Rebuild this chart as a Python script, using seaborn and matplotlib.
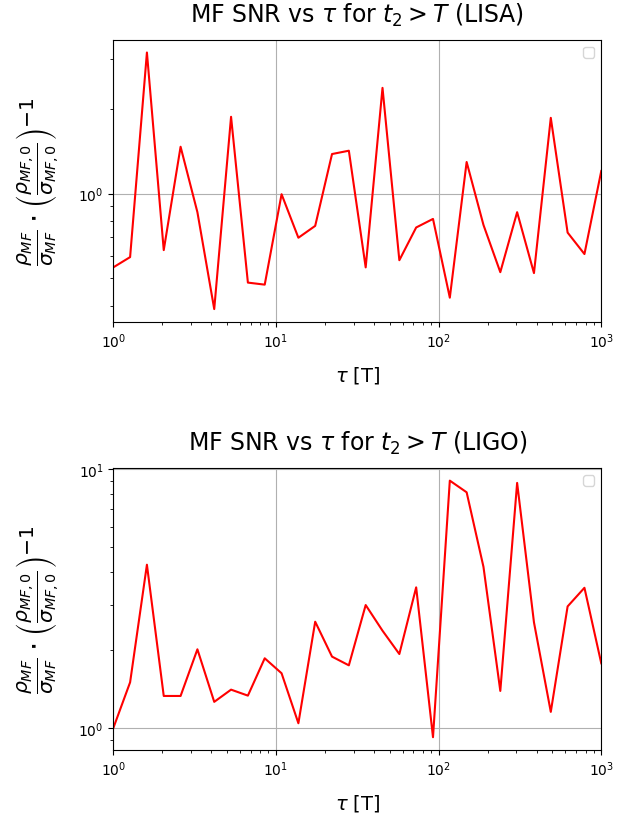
import numpy as np
import pandas as pd
import matplotlib
matplotlib.use('Agg')
import matplotlib.pyplot as plt
import seaborn as sns
from matplotlib.ticker import NullFormatter

# tau values (log spaced, 1 .. 1000)
tau = [1.0, 1.269, 1.610, 2.043, 2.593, 3.290, 4.175, 5.298, 6.723, 8.532,
       10.83, 13.74, 17.43, 22.12, 28.07, 35.62, 45.20, 57.36, 72.79, 92.37,
       117.2, 148.7, 188.7, 239.5, 303.9, 385.7, 489.4, 621.0, 788.0, 1000.0]

# normalised MF SNR, LISA
snr_lisa = [0.547, 0.595, 3.17, 0.630, 1.467, 0.859, 0.389, 1.874, 0.483, 0.475,
            0.995, 0.697, 0.768, 1.382, 1.420, 0.547, 2.374, 0.580, 0.758, 0.813,
            0.427, 1.295, 0.774, 0.526, 0.859, 0.522, 1.858, 0.727, 0.610, 1.203]

# normalised MF SNR, LIGO
snr_ligo = [1.0, 1.504, 4.28, 1.332, 1.332, 2.017, 1.264, 1.409, 1.336, 1.862,
            1.630, 1.045, 2.578, 1.890, 1.749, 2.99, 2.38, 1.934, 3.50, 0.923,
            9.04, 8.15, 4.20, 1.393, 8.86, 2.563, 1.156, 2.954, 3.486, 1.781]

detectors = ['LISA', 'LIGO']
series = [snr_lisa, snr_ligo]

ylabel = r'$\frac{\rho_{MF}}{\sigma_{MF}} \cdot \left(\frac{\rho_{MF,0}}{\sigma_{MF,0}}\right)^{-1}$'

fig, axes = plt.subplots(2, 1, figsize=(6.3, 8.2), dpi=100)
fig.subplots_adjust(left=0.1798, right=0.9544, top=0.9504, bottom=0.0841, hspace=0.517)

for ax, name, vals in zip(axes, detectors, series):
    df = pd.DataFrame({'tau': tau, 'snr': vals})
    sns.lineplot(data=df, x='tau', y='snr', ax=ax, color='red', linewidth=1.5)
    ax.set_xscale('log')
    ax.set_yscale('log')
    ax.set_xlim(1, 1000)
    ax.yaxis.set_minor_formatter(NullFormatter())
    ax.grid(True)
    ax.set_title(r'MF SNR vs $\tau$ for $t_2 > T$ (' + name + ')', fontsize=17, pad=13)
    ax.set_xlabel(r'$\tau$ [T]', fontsize=14, labelpad=10)
    ax.set_ylabel(ylabel, fontsize=21, labelpad=12)
    ax.legend(loc='upper right')

plt.savefig('out.png', dpi=100)
